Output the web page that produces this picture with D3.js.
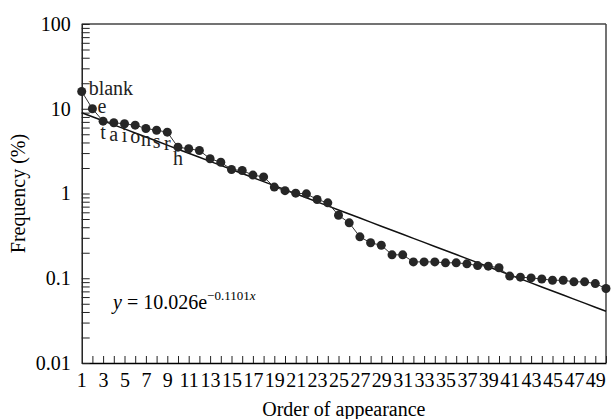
<!DOCTYPE html>
<html>
<head>
<meta charset="utf-8">
<style>
  body { margin: 0; background: #fff; }
  text { font-family: "Liberation Serif", "Times New Roman", serif; }
</style>
</head>
<body>
<div id="chart"></div>
<script src="https://d3js.org/d3.v7.min.js"></script>
<script>

// order of appearance 1..50 and frequency (%)
let order = d3.range(1, 51);
let freq = [16.0, 10.0, 7.14, 6.83, 6.65, 6.40, 5.85, 5.58, 5.29, 3.52,
            3.37, 3.22, 2.57, 2.34, 1.92, 1.87, 1.65, 1.57, 1.19, 1.08,
            1.01, 0.99, 0.85, 0.776, 0.554, 0.451, 0.308, 0.262, 0.245, 0.189,
            0.189, 0.156, 0.156, 0.156, 0.152, 0.152, 0.148, 0.141, 0.139, 0.133,
            0.106, 0.103, 0.101, 0.098, 0.0947, 0.0947, 0.0907, 0.0907, 0.0865, 0.0756];
let letters = ["blank", "e", "t", "a", "i", "o", "n", "s", "r", "h"];
let y_decades = [0.01, 0.1, 1, 10, 100];

// fitted trend y = a * e^(b x)
let fit_a = 10.026, fit_b = -0.1101;

let width = 611, height = 419;
let margin = {top: 24, right: 5, bottom: 56, left: 81.7};

let svg = d3.select("#chart")
  .append("svg")
    .attr("width", width)
    .attr("height", height);

let x = d3.scaleLinear()
  .domain([1, 50])
  .range([margin.left, width - margin.right]);

let y = d3.scaleLog()
  .domain([0.01, 100])
  .range([height - margin.bottom, margin.top]);

// minor + major log ticks
let y_ticks = [];
y_decades.slice(0, -1).forEach(function(d) {
  for (let k = 1; k < 10; k++) y_ticks.push(d * k);
});
y_ticks.push(100);

// frame top and right
svg.append("line")
  .attr("x1", x(1)).attr("x2", x(50))
  .attr("y1", y(100)).attr("y2", y(100))
  .attr("stroke", "#444").attr("stroke-width", 1.5);
svg.append("line")
  .attr("x1", x(50)).attr("x2", x(50))
  .attr("y1", y(100)).attr("y2", y(0.01))
  .attr("stroke", "#444").attr("stroke-width", 1.5);

// x axis
let x_axis = svg.append("g")
  .attr("transform", "translate(0," + y(0.01) + ")")
  .call(d3.axisBottom(x)
    .tickValues(order.slice(1))
    .tickSizeInner(-7)
    .tickSizeOuter(0)
    .tickPadding(10)
    .tickFormat(function(d) { return d % 2 === 1 ? d : ""; }));
x_axis.append("text")
  .attr("x", x(1)).attr("y", 10)
  .attr("dy", "0.71em")
  .attr("text-anchor", "middle")
  .attr("fill", "#000")
  .text("1");

// y axis
let y_axis = svg.append("g")
  .attr("transform", "translate(" + x(1) + ",0)")
  .call(d3.axisLeft(y)
    .tickValues(y_ticks)
    .tickSizeInner(-8)
    .tickSizeOuter(0)
    .tickPadding(11)
    .tickFormat(function(d) { return y_decades.indexOf(d) >= 0 ? d3.format("~g")(d) : ""; }));

svg.selectAll(".tick text")
  .attr("font-size", 20)
  .attr("font-family", "Liberation Serif, Times New Roman, serif");
x_axis.selectAll("text").attr("font-size", 20).attr("font-family", "Liberation Serif, Times New Roman, serif");
svg.selectAll(".domain").attr("stroke", "#000").attr("stroke-width", 1.3);
svg.selectAll(".tick line").attr("stroke", "#222");

// axis titles
svg.append("text")
  .attr("x", (x(1) + x(50)) / 2)
  .attr("y", 416)
  .attr("text-anchor", "middle")
  .attr("font-size", 20)
  .text("Order of appearance");

svg.append("text")
  .attr("transform", "translate(25," + (y(100) + y(0.01)) / 2 + ") rotate(-90)")
  .attr("text-anchor", "middle")
  .attr("font-size", 20)
  .text("Frequency (%)");

// trend line
let trend = order.map(function(d) { return [d, fit_a * Math.exp(fit_b * d)]; });
svg.append("path")
  .datum(trend)
  .attr("fill", "none")
  .attr("stroke", "#111")
  .attr("stroke-width", 1.5)
  .attr("d", d3.line()
    .x(function(d) { return x(d[0]); })
    .y(function(d) { return y(d[1]); }));

// data line + points
let series = order.map(function(d, i) { return [d, freq[i]]; });
svg.append("path")
  .datum(series)
  .attr("fill", "none")
  .attr("stroke", "#333")
  .attr("stroke-width", 1)
  .attr("d", d3.line()
    .x(function(d) { return x(d[0]); })
    .y(function(d) { return y(d[1]); }));

svg.selectAll(".pt")
  .data(series)
  .enter()
  .append("circle")
    .attr("class", "pt")
    .attr("cx", function(d) { return x(d[0]); })
    .attr("cy", function(d) { return y(d[1]); })
    .attr("r", 4.5)
    .attr("fill", "#262626");

// letter labels
svg.selectAll(".lbl")
  .data(letters)
  .enter()
  .append("text")
    .attr("class", "lbl")
    .attr("font-size", 20)
    .attr("fill", "#222")
    .attr("text-anchor", function(d, i) { return i < 2 ? "start" : "middle"; })
    .attr("x", function(d, i) { return x(order[i]) + (i === 0 ? 7 : i === 1 ? 5 : 0); })
    .attr("y", function(d, i) { return y(freq[i]) + (i < 2 ? 4 : 18); })
    .text(function(d) { return d; });

// equation
let eq = svg.append("text")
  .attr("x", 113)
  .attr("y", 309)
  .attr("font-size", 20);
eq.append("tspan").attr("font-style", "italic").text("y");
eq.append("tspan").text(" = 10.026e");
eq.append("tspan").attr("font-size", 13).attr("dy", -9).text("\u22120.1101");
eq.append("tspan").attr("font-size", 13).attr("font-style", "italic").text("x");

</script>
</body>
</html>
